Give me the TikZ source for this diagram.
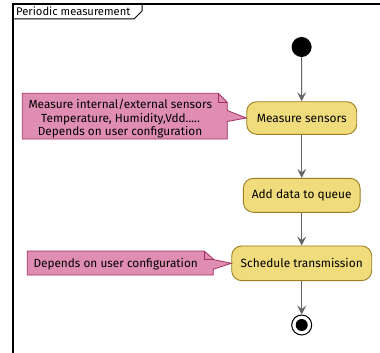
\documentclass[tikz,border=0pt]{standalone}
\usepackage{fontspec}
\setmainfont{Fira Sans}
\usetikzlibrary{arrows.meta}
\definecolor{notefill}{HTML}{E08DB3}
\definecolor{noteline}{HTML}{A1305F}
\definecolor{actfill}{HTML}{F0DC7C}
\definecolor{actline}{HTML}{9C7E22}
\definecolor{flowc}{HTML}{666666}
\tikzset{
  act/.style={draw=actline, fill=actfill, rounded corners=10pt, line width=0.9pt, inner sep=0pt, font=\fontsize{11.9}{14}\selectfont},
  notebody/.style={draw=noteline, fill=notefill, line width=0.8pt, line join=miter},
  notetext/.style={anchor=base west, inner sep=0pt, font=\fontsize{11.8}{14}\selectfont},
  flowline/.style={draw=flowc, line width=1pt, -{Stealth[length=9pt,width=9pt,inset=3.5pt]}},
}
\begin{document}
\begin{tikzpicture}[x=1pt,y=-1pt]
\useasboundingbox (0,0) rectangle (380,353);
% frame
\draw[line width=1.5pt] (13,353) -- (13,4) -- (380,4);
\draw[line width=1pt] (13,19) -- (134,19) -- (142,11) -- (142,4);
\node[anchor=base west, inner sep=0pt, font=\fontsize{11.2}{13}\selectfont] (title) at (16,16) {Periodic measurement};
% activities
\node[circle, fill=black, minimum size=20pt, inner sep=0pt] (start) at (301.6,47) {};
\node[act, minimum width=110pt, minimum height=32.6pt] (meas) at (301.7,118) {Measure sensors};
\node[act, minimum width=116.7pt, minimum height=34pt] (add) at (301.7,195.3) {Add data to queue};
\node[act, minimum width=140pt, minimum height=34.7pt] (sched) at (301.7,263.3) {Schedule transmission};
\node[circle, draw=black, line width=1pt, minimum size=20pt, inner sep=0pt] (stop) at (301.7,325) {};
\node[circle, fill=black, minimum size=12pt, inner sep=0pt] (stopdot) at (stop.center) {};
% flows
\draw[flowline] (start) -- (meas);
\draw[flowline] (meas) -- (add);
\draw[flowline] (add) -- (sched);
\draw[flowline] (sched) -- (stop);
% note 1
\draw[notebody] (22.3,93.3) -- (218.3,93.3) -- (227.3,102.3) -- (227.3,110.5) -- (meas.west) -- (227.3,121.5) -- (227.3,139) -- (22.3,139) -- cycle;
\draw[draw=noteline, line width=0.8pt] (218.3,93.3) -- (218.3,102.3) -- (227.3,102.3);
\node[notetext] (n1a) at (28.3,108.5) {Measure internal/external sensors};
\node[notetext] (n1b) at (41,122.2) {Temperature, Humidity,Vdd.....};
\node[notetext] (n1c) at (37.7,135.7) {Depends on user configuration};
% note 2
\draw[notebody] (27.3,251) -- (204.3,251) -- (213.3,259) -- (213.3,259.5) -- (sched.west) -- (213.3,269.3) -- (213.3,275) -- (27.3,275) -- cycle;
\draw[draw=noteline, line width=0.8pt] (204.3,251) -- (204.3,259) -- (213.3,259);
\node[notetext] (n2) at (33.3,267.5) {Depends on user configuration};
\end{tikzpicture}
\end{document}
